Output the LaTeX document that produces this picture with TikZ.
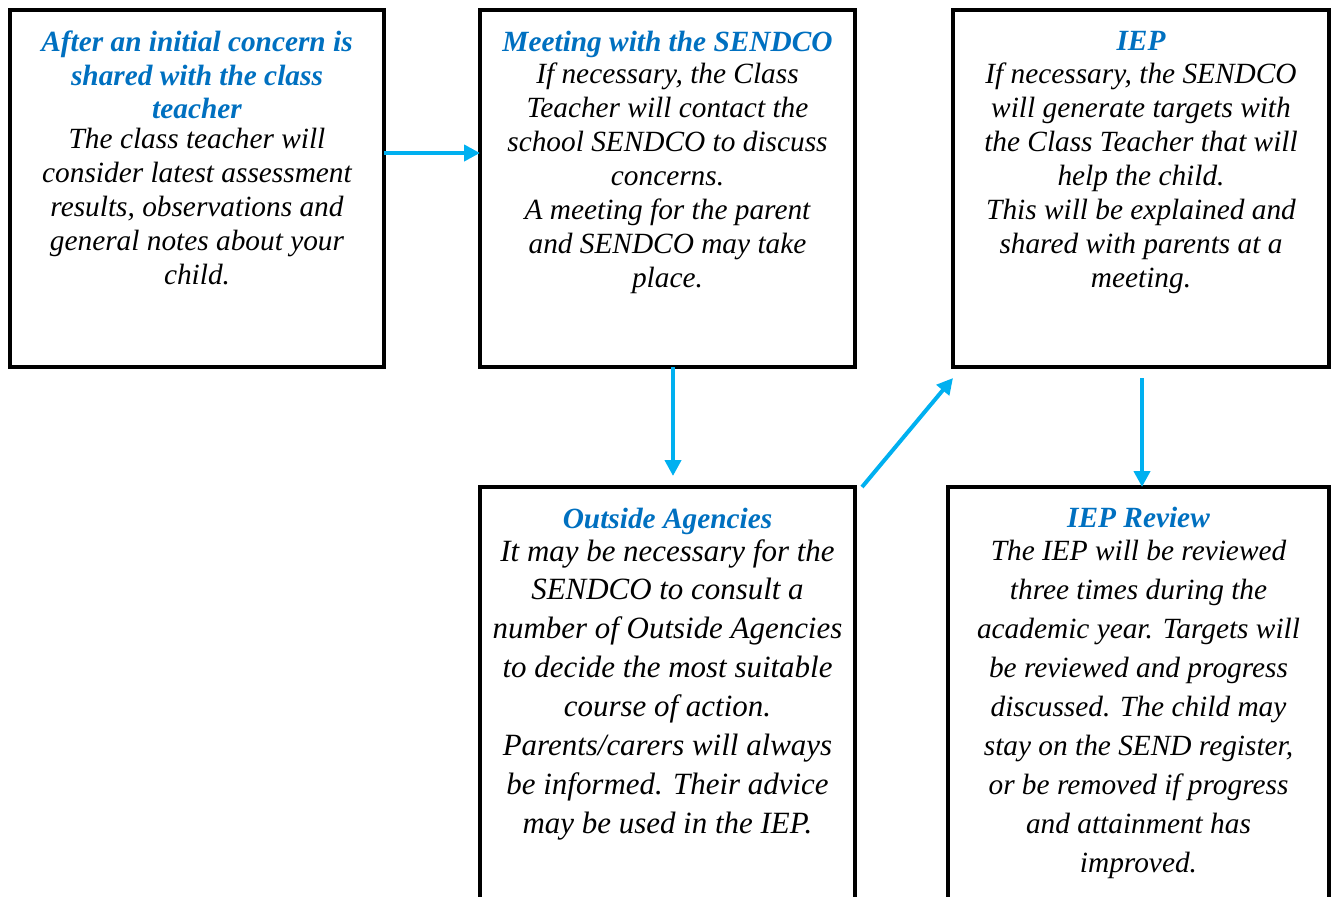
\documentclass[tikz,border=0pt]{standalone}
\usepackage{fontspec}
\setmainfont{Liberation Serif}
\usetikzlibrary{arrows.meta}
\definecolor{titleblue}{RGB}{0,112,192}
\definecolor{arrowcyan}{RGB}{0,176,240}
\tikzset{
  x=0.75pt, y=-0.75pt,
  box/.style={draw=black, line width=3pt, inner sep=0pt, outer sep=0pt, fill=none},
  ttl/.style={anchor=north, inner sep=0pt, align=center, text=titleblue,
    font=\fontsize{22}{25}\selectfont\bfseries\itshape},
  bodytop/.style={anchor=north, inner sep=0pt, align=center, text=black,
    font=\fontsize{22}{25.5}\selectfont\itshape},
  bodybot/.style={anchor=north, inner sep=0pt, align=center, text=black,
    font=\fontsize{22}{29.2}\selectfont\itshape},
  arr/.style={draw=arrowcyan, line width=3pt, -{Triangle[length=12pt,width=12pt]}}
}
\begin{document}
\begin{tikzpicture}
\useasboundingbox (0,0) rectangle (1334,896);
\clip (0,0) rectangle (1334,896);
% boxes
\node[box, minimum width=280.5pt, minimum height=267.75pt] (b1) at (197,188.5) {};
\node[box, minimum width=281.25pt, minimum height=267.75pt] (b2) at (667.5,188.5) {};
\node[box, minimum width=282pt, minimum height=267.75pt] (b3) at (1141,188.5) {};
\node[box, minimum width=281.25pt, minimum height=324.75pt] (b4) at (667.5,703.5) {};
\node[box, minimum width=285.75pt, minimum height=324.75pt] (b5) at (1138.5,703.5) {};
% texts box 1
\node[ttl] (t1) at (197,31) {After an initial concern is\\shared with the class\\teacher};
\node[bodytop] (c1) at (197,128) {The class teacher will\\consider latest assessment\\results, observations and\\general notes about your\\child.};
% box 2
\node[ttl] (t2) at (667.5,31) {Meeting with the SENDCO};
\node[bodytop] (c2) at (667.5,63) {If necessary, the Class\\Teacher will contact the\\school SENDCO to discuss\\concerns.\\A meeting for the parent\\and SENDCO may take\\place.};
% box 3
\node[ttl] (t3) at (1141,31) {IEP};
\node[bodytop] (c3) at (1141,63) {If necessary, the SENDCO\\will generate targets with\\the Class Teacher that will\\help the child.\\This will be explained and\\shared with parents at a\\meeting.};
% box 4
\node[ttl] (t4) at (667.5,508) {Outside Agencies};
\node[bodybot, font=\fontsize{23.2}{29.2}\selectfont\itshape] (c4) at (667.5,539) {It may be necessary for the\\SENDCO to consult a\\number of Outside Agencies\\to decide the most suitable\\course of action.\\Parents/carers will always\\be informed. Their advice\\may be used in the IEP.};
% box 5
\node[ttl] (t5) at (1138.5,507) {IEP Review};
\node[bodybot] (c5) at (1138.5,540) {The IEP will be reviewed\\three times during the\\academic year. Targets will\\be reviewed and progress\\discussed. The child may\\stay on the SEND register,\\or be removed if progress\\and attainment has\\improved.};
% arrow anchor coordinates
\coordinate (a1) at (0,153);
\coordinate (a2) at (673,0);
\coordinate (a2e) at (673,476);
\coordinate (a3s) at (862,487);
\coordinate (a3e) at (953,378);
\coordinate (a4) at (1142,0);
\coordinate (a4s) at (1142,378);
% arrows
\draw[arr] (b1.east |- a1) -- (b2.west |- a1);
\draw[arr] (b2.south -| a2) -- (a2e);
\draw[arr] (a3s) -- (a3e);
\draw[arr] (a4s) -- (b5.north -| a4);
\end{tikzpicture}
\end{document}
